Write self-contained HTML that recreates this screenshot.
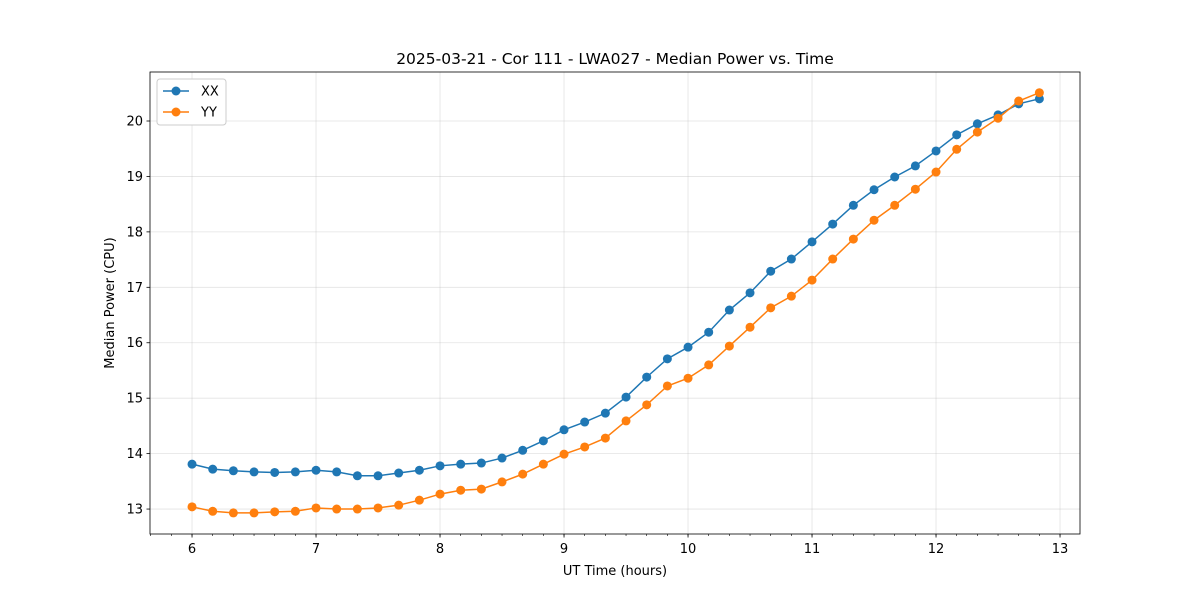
<!DOCTYPE html>
<html><head><meta charset="utf-8"><style>
body{margin:0;background:#fff}
svg text{font-family:"DejaVu Sans","Liberation Sans",sans-serif;fill:#000}
</style></head><body>
<svg id="chart" width="1200" height="600" xmlns="http://www.w3.org/2000/svg"></svg>
<script>
const times = [];
for (let i = 0; i < 42; i++) times.push(6 + i / 6);
const xxValues = [13.81,13.72,13.69,13.67,13.66,13.67,13.70,13.67,13.60,13.60,13.65,13.70,13.78,13.81,13.83,13.92,14.06,14.23,14.43,14.57,14.73,15.02,15.38,15.71,15.92,16.19,16.59,16.90,17.29,17.51,17.82,18.14,18.48,18.76,18.99,19.19,19.46,19.75,19.95,20.11,20.31,20.40];
const yyValues = [13.04,12.96,12.93,12.93,12.95,12.96,13.02,13.00,13.00,13.02,13.07,13.16,13.27,13.34,13.36,13.49,13.63,13.81,13.99,14.12,14.28,14.59,14.88,15.22,15.36,15.60,15.94,16.28,16.63,16.84,17.13,17.51,17.87,18.21,18.48,18.77,19.08,19.49,19.80,20.05,20.36,20.51];
const xTicks = [6,7,8,9,10,11,12,13];
const yTicks = [13,14,15,16,17,18,19,20];

const svg = document.getElementById('chart');
const NS = 'http://www.w3.org/2000/svg';
const L = 150, R = 1080, T = 72, B = 534;
const X0 = 5.661, X1 = 13.161, Y0 = 12.55, Y1 = 20.884;
const sx = v => L + (v - X0) / (X1 - X0) * (R - L);
const sy = v => B - (v - Y0) / (Y1 - Y0) * (B - T);
function el(tag, attrs, parent) {
  const e = document.createElementNS(NS, tag);
  for (const k in attrs) e.setAttribute(k, attrs[k]);
  (parent || svg).appendChild(e);
  return e;
}
const grid = el('g', {});


xTicks.forEach(t => {
  el('line', {x1: sx(t), x2: sx(t), y1: T, y2: B, stroke: '#b0b0b0', 'stroke-opacity': 0.35, 'stroke-width': 0.8}, grid);
});
yTicks.forEach(t => {
  el('line', {x1: L, x2: R, y1: sy(t), y2: sy(t), stroke: '#b0b0b0', 'stroke-opacity': 0.35, 'stroke-width': 0.8}, grid);
});
// minor x ticks
for (let m = Math.ceil(X0 * 6); m <= Math.floor(X1 * 6); m++) {
  el('line', {x1: sx(m / 6), x2: sx(m / 6), y1: B, y2: B + 2, stroke: '#000', 'stroke-width': 0.6});
}
const xAxis = el('g', {});


xTicks.forEach(t => {
  el('line', {x1: sx(t), x2: sx(t), y1: B, y2: B + 3.5, stroke: '#000', 'stroke-width': 0.8}, xAxis);
  const tx = el('text', {x: sx(t), y: B + 19, 'font-size': 13, 'text-anchor': 'middle'}, xAxis);
  tx.textContent = t;
});
const yAxis = el('g', {});


yTicks.forEach(t => {
  el('line', {x1: L - 3.5, x2: L, y1: sy(t), y2: sy(t), stroke: '#000', 'stroke-width': 0.8}, yAxis);
  const tx = el('text', {x: L - 7, y: sy(t) + 4.5, 'font-size': 13, 'text-anchor': 'end'}, yAxis);
  tx.textContent = t;
});
function series(vals, color, name) {
  const g = el('g', {});
  
  
  el('polyline', {points: vals.map((v, i) => sx(times[i]) + ',' + sy(v)).join(' '), fill: 'none', stroke: color, 'stroke-width': 1.5}, g);
  vals.forEach((v, i) => el('circle', {cx: sx(times[i]), cy: sy(v), r: 4.5, fill: color}, g));
}
series(xxValues, '#1f77b4', 'series-xx');
series(yyValues, '#ff7f0e', 'series-yy');
el('rect', {x: L, y: T, width: R - L, height: B - T, fill: 'none', stroke: '#000', 'stroke-width': 0.8});
const title = el('text', {x: (L + R) / 2, y: 64, 'font-size': 15.5, 'text-anchor': 'middle'});
title.textContent = '2025-03-21 - Cor 111 - LWA027 - Median Power vs. Time';


const xl = el('text', {x: (L + R) / 2, y: 575, 'font-size': 13, 'text-anchor': 'middle'});
xl.textContent = 'UT Time (hours)';


const yl = el('text', {x: 114, y: (T + B) / 2, 'font-size': 13, 'text-anchor': 'middle', transform: 'rotate(-90 114 ' + (T + B) / 2 + ')'});
yl.textContent = 'Median Power (CPU)';


const leg = el('g', {});


el('rect', {x: 157, y: 79, width: 69, height: 46, rx: 3, fill: '#fff', stroke: '#ccc', 'stroke-width': 1}, leg);
[['XX', '#1f77b4', 91], ['YY', '#ff7f0e', 112]].forEach(([n, c, y]) => {
  const e = el('g', {}, leg);
  
  
  el('line', {x1: 163, x2: 189, y1: y, y2: y, stroke: c, 'stroke-width': 1.5}, e);
  el('circle', {cx: 176, cy: y, r: 4.5, fill: c}, e);
  const t = el('text', {x: 201, y: y + 4.5, 'font-size': 13}, e);
  t.textContent = n;
});
</script>
</body></html>
